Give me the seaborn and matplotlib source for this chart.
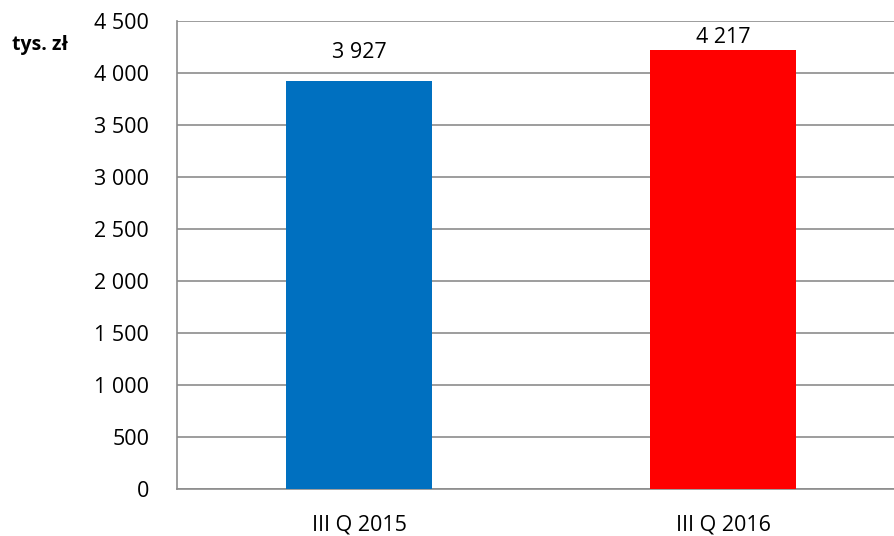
import seaborn as sns
import matplotlib.pyplot as plt
import pandas as pd
from matplotlib.ticker import FuncFormatter, FixedLocator

# values (thousand PLN)
quarters = ['III Q 2015', 'III Q 2016']
values = [3927, 4217]
bar_colors = ['#0070C0', '#FF0000']

df = pd.DataFrame({'quarter': quarters, 'value': values})

sns.set_style('white')
plt.rcParams['font.family'] = ['Open Sans', 'DejaVu Sans']
plt.rcParams['text.color'] = 'black'
plt.rcParams['xtick.color'] = 'black'
plt.rcParams['ytick.color'] = 'black'


def spaced(v, pos=None):
    return f'{int(round(v)):,}'.replace(',', ' ')


fig = plt.figure(figsize=(8.94, 5.36), dpi=100)
ax = fig.add_axes([177 / 894, 1 - 489 / 536, 728 / 894, 468 / 536])

sns.barplot(data=df, x='quarter', y='value', hue='quarter', palette=bar_colors,
            width=0.4, legend=False, ax=ax, saturation=1, zorder=3,
            edgecolor='none', linewidth=0)

ax.set_ylim(0, 4500)
ax.set_xlim(-0.5, 1.5)
ax.set_yticks(range(0, 4501, 500))
ax.yaxis.set_major_formatter(FuncFormatter(spaced))
ax.grid(axis='y', color='#8c8c8c', linewidth=1.2, zorder=0)
ax.set_xlabel('')
ax.set_ylabel('')

for side in ['top', 'right']:
    ax.spines[side].set_visible(False)
for side in ['left', 'bottom']:
    ax.spines[side].set_color('#8c8c8c')
    ax.spines[side].set_linewidth(1.2)

ax.tick_params(axis='y', length=6, width=1.2, color='#8c8c8c',
               labelcolor='black', labelsize=15.5, pad=14)
ax.tick_params(axis='x', which='major', length=0, labelsize=15.5,
               labelcolor='black', pad=18)
ax.xaxis.set_minor_locator(FixedLocator([-0.5, 0.5, 1.5]))
ax.tick_params(axis='x', which='minor', length=6, width=1.2, color='#8c8c8c')

# the second label sits closer to its bar (it is squeezed under the top)
label_pads = [12.5, 1.5]
for cont, pad in zip(ax.containers, label_pads):
    ax.bar_label(cont, labels=[spaced(v) for v in cont.datavalues],
                 padding=pad, fontsize=15.5, color='black')

fig.text(12 / 894, 1 - 45 / 536, 'tys. zł', fontsize=14, fontweight='bold',
         va='center', ha='left', color='black')

fig.savefig('out.png', dpi=100)
